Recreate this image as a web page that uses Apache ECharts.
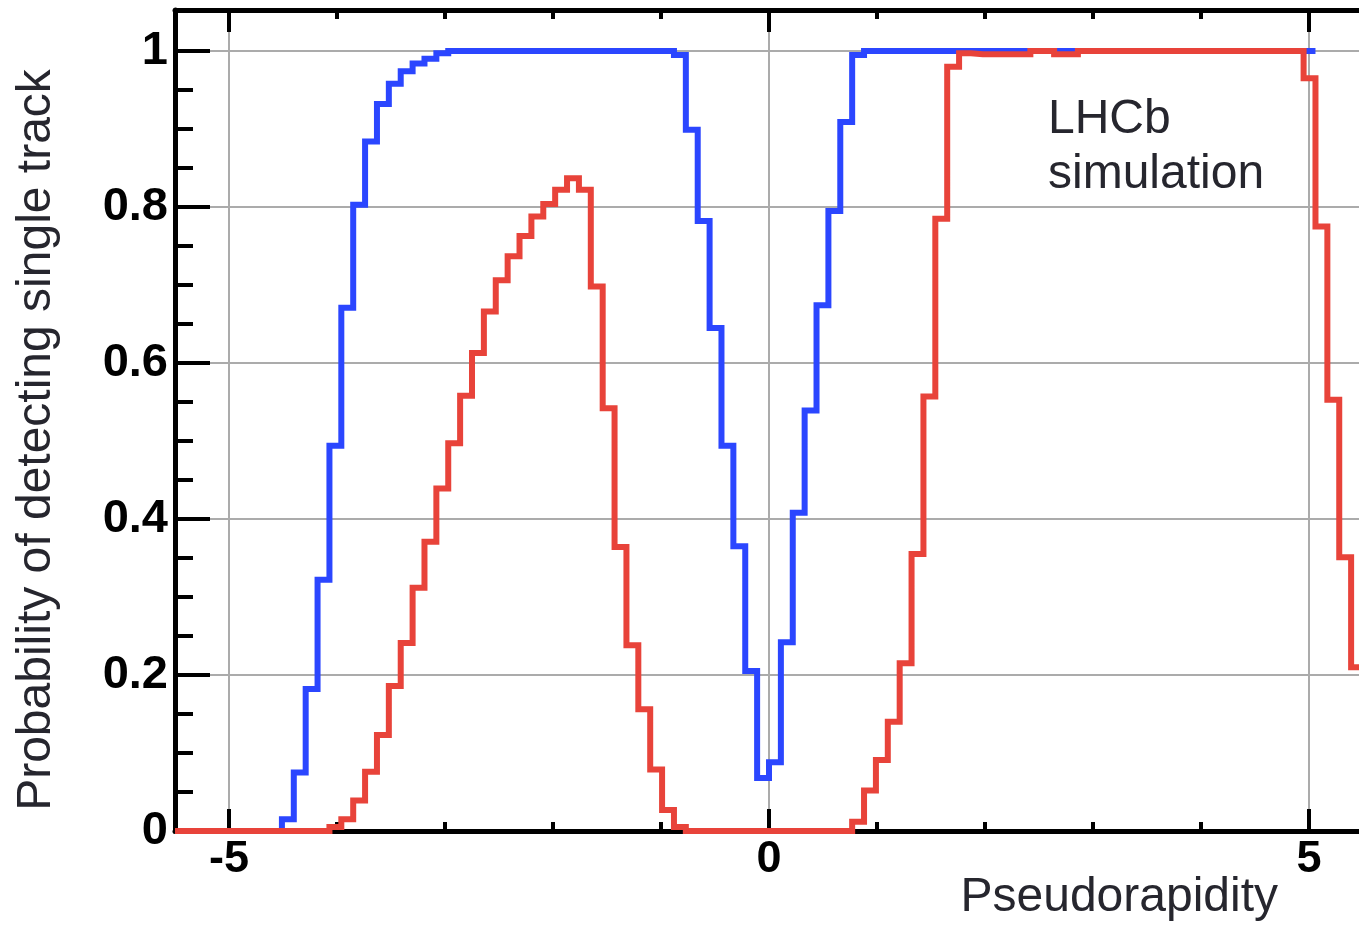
<!DOCTYPE html>
<html><head><meta charset="utf-8">
<script src="https://cdn.jsdelivr.net/npm/echarts@6/dist/echarts.min.js"></script>
<style>html,body{margin:0;padding:0;background:#fff}#c{width:1359px;height:926px}</style>
</head><body><div id="c"></div>
<script>
// histogram binning (pseudorapidity)
const etaMin = -5.5, etaMax = 5.5, nBins = 100;
const xLabelValues = [-5, 0, 5];
const xMinorTickValues = [-4, -3, -2, -1, 1, 2, 3, 4];
const yLabelValues = [0, 0.2, 0.4, 0.6, 0.8, 1];
const yMinorTickValues = [0.05, 0.1, 0.15, 0.25, 0.3, 0.35, 0.45, 0.5, 0.55, 0.65, 0.7, 0.75, 0.85, 0.9, 0.95];

// blue histogram (bins 0..95)
const blueEff = [
  0, 0, 0, 0, 0, 0, 0, 0, 0, 0.015,
  0.075, 0.182, 0.322, 0.494, 0.671, 0.803, 0.884, 0.932, 0.958, 0.974,
  0.984, 0.990, 0.997, 1, 1, 1, 1, 1, 1, 1,
  1, 1, 1, 1, 1, 1, 1, 1, 1, 1,
  1, 1, 0.995, 0.899, 0.782, 0.645, 0.494, 0.365, 0.205, 0.068,
  0.088, 0.242, 0.408, 0.539, 0.674, 0.795, 0.909, 0.995, 1, 1,
  1, 1, 1, 1, 1, 1, 1, 1, 1, 1,
  1, 1, 1, 1, 1, 1, 1, 1, 1, 1,
  1, 1, 1, 1, 1, 1, 1, 1, 1, 1,
  1, 1, 1, 1, 1, 1
];
// red histogram (bins 0..99)
const redEff = [
  0, 0, 0, 0, 0, 0, 0, 0, 0, 0,
  0, 0, 0, 0.005, 0.015, 0.039, 0.076, 0.123, 0.186, 0.241,
  0.312, 0.371, 0.439, 0.497, 0.558, 0.613, 0.666, 0.706, 0.737, 0.763,
  0.788, 0.804, 0.822, 0.837, 0.822, 0.698, 0.542, 0.364, 0.238, 0.156,
  0.079, 0.027, 0.005, 0, 0, 0, 0, 0, 0, 0,
  0, 0, 0, 0, 0, 0, 0, 0.012, 0.052, 0.091,
  0.140, 0.215, 0.355, 0.557, 0.785, 0.980, 0.997, 0.996, 0.996, 0.996,
  0.996, 0.996, 1, 1, 0.996, 0.996, 1, 1, 1, 1,
  1, 1, 1, 1, 1, 1, 1, 1, 1, 1,
  1, 1, 1, 1, 1, 0.965, 0.775, 0.553, 0.351, 0.21
];

const binW = (etaMax - etaMin) / nBins;
function toSteps(vals) {
  const pts = vals.map((v, k) => [etaMin + k * binW, v]);
  pts.push([etaMin + vals.length * binW, vals[vals.length - 1]]);
  return pts;
}

const yTop = 1.0526;
const AX = '#000';
const GRIDC = '#ababab';
const TITLEC = '#26262e';
const TFONT = '48px "Liberation Sans", Arial, sans-serif';

const chart = echarts.init(document.getElementById('c'), null, {renderer: 'canvas'});
chart.setOption({
  animation: false,
  backgroundColor: '#fff',
  grid: {left: 175, right: -4, top: 10, bottom: 95, containLabel: false, outerBoundsMode: 'none'},
  xAxis: [
    { type: 'value', position: 'bottom', min: etaMin, max: etaMax,
      axisLine: {show: true, onZero: false, lineStyle: {color: AX, width: 5}},
      axisTick: {show: true, inside: true, length: 22, customValues: xLabelValues, lineStyle: {color: AX, width: 4}},
      axisLabel: {show: true, customValues: xLabelValues, margin: 6, color: '#000', fontSize: 45, fontWeight: 'bold', fontFamily: 'Liberation Sans, Arial, sans-serif'},
      splitLine: {show: true, lineStyle: {color: GRIDC, width: 2}}
    },
    { type: 'value', position: 'bottom', min: etaMin, max: etaMax,
      axisLine: {show: false, onZero: false},
      axisTick: {show: true, inside: true, length: 9, customValues: xMinorTickValues, lineStyle: {color: AX, width: 4}},
      axisLabel: {show: false}, splitLine: {show: false}
    },
    { type: 'value', position: 'top', min: etaMin, max: etaMax,
      axisLine: {show: true, onZero: false, lineStyle: {color: AX, width: 5}},
      axisTick: {show: true, inside: true, length: 22, customValues: xLabelValues, lineStyle: {color: AX, width: 4}},
      axisLabel: {show: false}, splitLine: {show: false}
    },
    { type: 'value', position: 'top', min: etaMin, max: etaMax,
      axisLine: {show: false, onZero: false},
      axisTick: {show: true, inside: true, length: 9, customValues: xMinorTickValues, lineStyle: {color: AX, width: 4}},
      axisLabel: {show: false}, splitLine: {show: false}
    }
  ],
  yAxis: [
    { type: 'value', position: 'left', min: 0, max: yTop,
      axisLine: {show: true, onZero: false, lineStyle: {color: AX, width: 5}},
      axisTick: {show: true, inside: true, length: 35, customValues: yLabelValues, lineStyle: {color: AX, width: 4}},
      axisLabel: {show: true, customValues: yLabelValues, margin: 7, color: '#000', fontSize: 47, fontWeight: 'bold', fontFamily: 'Liberation Sans, Arial, sans-serif'},
      splitLine: {show: true, lineStyle: {color: GRIDC, width: 2}}
    },
    { type: 'value', position: 'left', min: 0, max: yTop,
      axisLine: {show: false, onZero: false},
      axisTick: {show: true, inside: true, length: 18, customValues: yMinorTickValues, lineStyle: {color: AX, width: 4}},
      axisLabel: {show: false}, splitLine: {show: false}
    }
  ],
  series: [
    { name: 'blue', type: 'line', step: 'end', xAxisIndex: 0, yAxisIndex: 0,
      data: toSteps(blueEff), showSymbol: false, symbol: 'none',
      lineStyle: {color: '#2b46ff', width: 6, join: 'miter'}, z: 3 },
    { name: 'red', type: 'line', step: 'end', xAxisIndex: 0, yAxisIndex: 0,
      data: toSteps(redEff), showSymbol: false, symbol: 'none',
      lineStyle: {color: '#e8433a', width: 6, join: 'miter'}, z: 4 }
  ],
  graphic: [
    { type: 'text', x: 1048, y: 92, z: 10,
      style: {text: 'LHCb\nsimulation', fill: TITLEC, font: TFONT, lineHeight: 55, textAlign: 'left', textVerticalAlign: 'top'} },
    { type: 'text', x: 1278, y: 898, z: 10,
      style: {text: 'Pseudorapidity', fill: TITLEC, font: TFONT, textAlign: 'right', textVerticalAlign: 'middle'} },
    { type: 'text', x: 37, y: 440, rotation: Math.PI / 2, z: 10,
      style: {text: 'Probability of detecting single track', fill: TITLEC, font: TFONT, textAlign: 'center', textVerticalAlign: 'middle'} }
  ]
});
</script>
</body></html>
